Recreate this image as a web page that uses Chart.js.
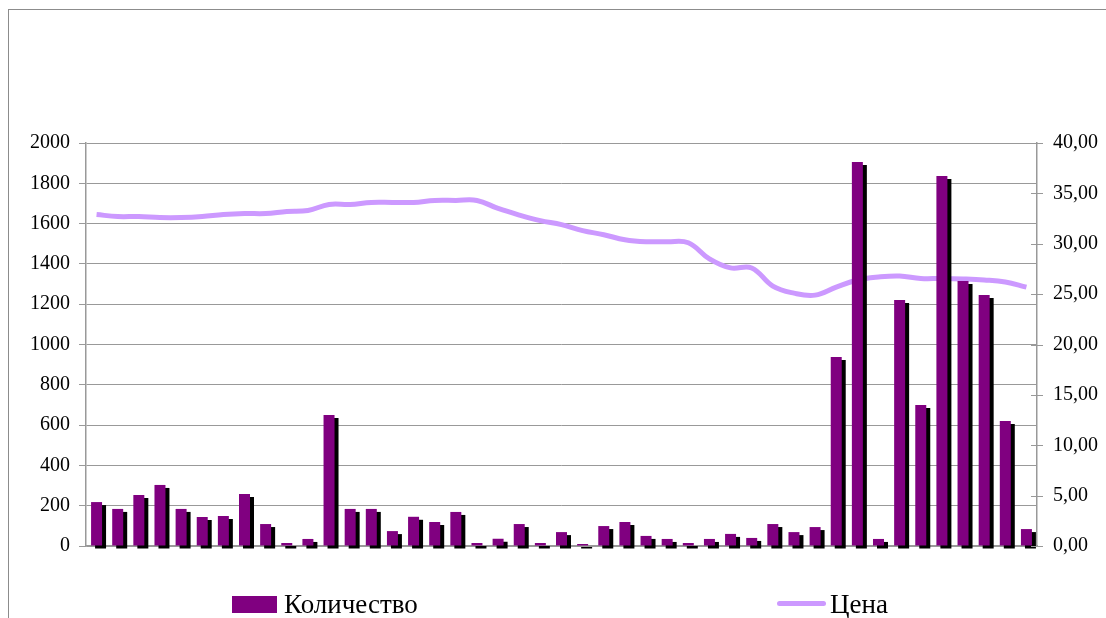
<!DOCTYPE html>
<html>
<head>
<meta charset="utf-8">
<script src="https://cdn.jsdelivr.net/npm/chart.js@4.4.1/dist/chart.umd.min.js"></script>
<style>
  body { margin: 0; background: #fff; overflow: hidden; }
  #wrap { position: relative; width: 1106px; height: 618px; }
  #frame { position: absolute; left: 8px; top: 9px; width: 1200px; height: 700px; border: 1px solid #8c8c8c; }
  #chart { position: absolute; left: 0; top: 0; }
  .lg { position: absolute; font-family: "Liberation Serif", "Times New Roman", serif; font-size: 27px; color: #000; line-height: 27px; }
  .sw { position: absolute; }
</style>
</head>
<body>
<div id="wrap">
  <div id="frame"></div>
  <canvas id="chart" width="1106" height="618"></canvas>
  <div id="legend"></div>
</div>
<script>
// 45 periods, no axis labels shown in the original
var periods = [];
for (var i = 1; i <= 45; i++) periods.push(String(i));

var quantity = [218, 184, 253, 303, 184, 144, 149, 258, 109, 15,
                35, 650, 184, 184, 74, 145, 119, 169, 15, 36,
                109, 15, 69, 10, 99, 119, 50, 35, 15, 35,
                60, 40, 109, 69, 94, 938, 1906, 35, 1221, 700,
                1836, 1315, 1246, 620, 84];

var price = [32.9, 32.7, 32.7, 32.6, 32.6, 32.7, 32.9, 33.0, 33.0, 33.2,
             33.3, 33.9, 33.9, 34.1, 34.1, 34.1, 34.3, 34.3, 34.3, 33.5,
             32.85, 32.3, 31.9, 31.3, 30.9, 30.4, 30.2, 30.2, 30.1, 28.5,
             27.6, 27.6, 25.8, 25.1, 24.9, 25.7, 26.4, 26.7, 26.8, 26.55,
             26.55, 26.5, 26.4, 26.2, 25.7];

var serif = '"Liberation Serif", "Times New Roman", serif';
var gridColor = '#999999';

// black offset shadow behind the bars, like the Excel original
var barShadow = {
  id: 'barShadow',
  beforeDatasetDraw: function(chart, args) {
    if (args.index !== 0) return;
    var ctx = chart.ctx;
    ctx.save();
    ctx.shadowColor = '#000000';
    ctx.shadowOffsetX = 4;
    ctx.shadowOffsetY = 3;
    ctx.shadowBlur = 0;
  },
  afterDatasetDraw: function(chart, args) {
    if (args.index !== 0) return;
    chart.ctx.restore();
  }
};

// cross tick marks on the right axis
var rightTicks = {
  id: 'rightTicks',
  afterDatasetsDraw: function(chart) {
    var s = chart.scales.y1;
    var ctx = chart.ctx;
    ctx.save();
    ctx.strokeStyle = gridColor;
    ctx.lineWidth = 1;
    s.ticks.forEach(function(t, i) {
      var y = Math.round(s.getPixelForTick(i)) + 0.5;
      ctx.beginPath();
      ctx.moveTo(s.left - 6, y);
      ctx.lineTo(s.left + 6, y);
      ctx.stroke();
    });
    ctx.restore();
  }
};

var ctx = document.getElementById('chart');
var chart = new Chart(ctx, {
  type: 'bar',
  data: {
    labels: periods,
    datasets: [
      {
        type: 'bar',
        label: 'Количество',
        data: quantity,
        backgroundColor: '#800080',
        barPercentage: 0.52,
        categoryPercentage: 1.0,
        yAxisID: 'y',
        order: 1,
        clip: false
      },
      {
        type: 'line',
        label: 'Цена',
        data: price,
        borderColor: '#CC99FF',
        backgroundColor: '#CC99FF',
        borderWidth: 5,
        pointRadius: 0,
        tension: 0.4,
        yAxisID: 'y1',
        order: 2
      }
    ]
  },
  options: {
    responsive: false,
    animation: false,
    layout: { padding: { top: 143, bottom: 72, left: 0, right: 0 } },
    plugins: {
      legend: { display: false },
      tooltip: { enabled: false }
    },
    scales: {
      x: {
        grid: { display: false },
        ticks: { display: false },
        border: { display: true, color: gridColor, width: 1.5 },
        afterFit: function(s) { s.height = 0; }
      },
      y: {
        position: 'left',
        min: 0,
        max: 2000,
        ticks: {
          stepSize: 200,
          padding: 9,
          color: '#000',
          font: { family: serif, size: 20 },
          callback: function(v) { return String(v); }
        },
        grid: { color: gridColor, lineWidth: 1, tickLength: 7 },
        border: { display: true, color: gridColor, width: 1.5 },
        afterFit: function(s) { s.width = 86; }
      },
      y1: {
        position: 'right',
        min: 0,
        max: 40,
        ticks: {
          stepSize: 5,
          padding: 16,
          color: '#000',
          font: { family: serif, size: 20 },
          callback: function(v) { return v.toFixed(2).replace('.', ','); }
        },
        grid: { drawOnChartArea: false, drawTicks: false },
        border: { display: true, color: gridColor, width: 1.5 },
        afterFit: function(s) { s.width = 69; }
      }
    }
  },
  plugins: [barShadow, rightTicks]
});

// legend spread along the bottom as in the original
var legend = document.getElementById('legend');
var ds = chart.data.datasets;

var box = document.createElement('div');
box.className = 'sw';
box.style.cssText = 'left:232px;top:596px;width:45px;height:17px;background:' + ds[0].backgroundColor;
legend.appendChild(box);
var t1 = document.createElement('div');
t1.className = 'lg';
t1.style.cssText = 'left:284px;top:591px;';
t1.textContent = ds[0].label;
legend.appendChild(t1);

var ln = document.createElement('div');
ln.className = 'sw';
ln.style.cssText = 'left:777px;top:601px;width:49px;height:5px;border-radius:3px;background:' + ds[1].borderColor;
legend.appendChild(ln);
var t2 = document.createElement('div');
t2.className = 'lg';
t2.style.cssText = 'left:830px;top:591px;';
t2.textContent = ds[1].label;
legend.appendChild(t2);
</script>
</body>
</html>
